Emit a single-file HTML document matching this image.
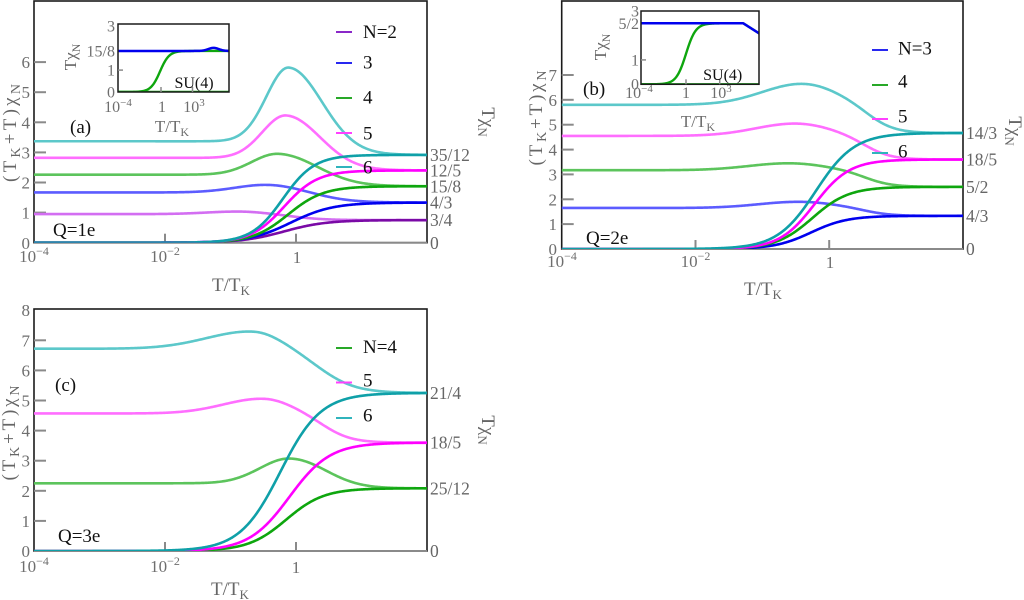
<!DOCTYPE html>
<html><head><meta charset="utf-8">
<style>
html,body{margin:0;padding:0;background:#fff;}
svg{display:block;font-family:"Liberation Serif","Times New Roman",serif;}
svg text, svg tspan{font-family:"Liberation Serif","Times New Roman",serif;}
.tk{font-size:17px;fill:#6e6e6e;font-family:"Liberation Serif",serif;}
.rl{font-size:17.5px;fill:#666;font-family:"Liberation Serif",serif;}
.lg{font-size:19px;fill:#111;font-family:"Liberation Serif",serif;}
.ttl{font-size:19px;fill:#666;font-family:"Liberation Serif",serif;}
.it{font-size:16px;fill:#6e6e6e;font-family:"Liberation Serif",serif;}
</style></head><body>
<svg id="s" width="1024" height="600" viewBox="0 0 1024 600" xmlns="http://www.w3.org/2000/svg" font-family="Liberation Serif, serif" style="font-family:'Liberation Serif',serif">
<defs>
<clipPath id="ca"><rect x="34" y="1" width="393" height="241.7"/></clipPath>
<clipPath id="cb"><rect x="561.7" y="1" width="401.3" height="248"/></clipPath>
<clipPath id="cc"><rect x="34" y="309" width="393" height="242"/></clipPath>
<clipPath id="cia"><rect x="118" y="24" width="111" height="68"/></clipPath>
<clipPath id="cib"><rect x="641" y="11" width="118" height="73.3"/></clipPath>
</defs>
<rect width="1024" height="600" fill="#fff"/>

<!-- ===== Panel A axes ===== -->
<rect x="34" y="1" width="393" height="241.7" fill="none" stroke="#1a1a1a" stroke-width="1.6"/>
<line x1="34" y1="242.7" x2="427" y2="242.7" stroke="#8a8a8a" stroke-width="2"/>
<g stroke="#8a8a8a" stroke-width="2">
<line x1="34" y1="212.6" x2="46" y2="212.6"/><line x1="34" y1="182.5" x2="46" y2="182.5"/>
<line x1="34" y1="152.4" x2="46" y2="152.4"/><line x1="34" y1="122.3" x2="46" y2="122.3"/>
<line x1="34" y1="92.2" x2="46" y2="92.2"/><line x1="34" y1="62.1" x2="46" y2="62.1"/>
<line x1="165" y1="242.7" x2="165" y2="233.7"/><line x1="296" y1="242.7" x2="296" y2="233.7"/>
<line x1="414" y1="154.9" x2="427" y2="154.9"/><line x1="414" y1="170.5" x2="427" y2="170.5"/>
<line x1="414" y1="186.3" x2="427" y2="186.3"/><line x1="414" y1="202.6" x2="427" y2="202.6"/>
<line x1="414" y1="220.1" x2="427" y2="220.1"/>
</g>

<!-- ===== Panel B axes ===== -->
<rect x="561.7" y="1" width="401.3" height="248" fill="none" stroke="#1a1a1a" stroke-width="1.6"/>
<line x1="561.7" y1="249" x2="963" y2="249" stroke="#8a8a8a" stroke-width="2"/>
<g stroke="#8a8a8a" stroke-width="2">
<line x1="561.7" y1="224.1" x2="573.7" y2="224.1"/><line x1="561.7" y1="199.3" x2="573.7" y2="199.3"/>
<line x1="561.7" y1="174.4" x2="573.7" y2="174.4"/><line x1="561.7" y1="149.6" x2="573.7" y2="149.6"/>
<line x1="561.7" y1="124.7" x2="573.7" y2="124.7"/><line x1="561.7" y1="99.8" x2="573.7" y2="99.8"/>
<line x1="561.7" y1="75" x2="573.7" y2="75"/>
<line x1="695.5" y1="249" x2="695.5" y2="240"/><line x1="829.2" y1="249" x2="829.2" y2="240"/>
<line x1="950" y1="133" x2="963" y2="133"/><line x1="950" y1="159.5" x2="963" y2="159.5"/>
<line x1="950" y1="186.9" x2="963" y2="186.9"/><line x1="950" y1="215.9" x2="963" y2="215.9"/>
</g>

<!-- ===== Panel C axes ===== -->
<rect x="34" y="309" width="393" height="242" fill="none" stroke="#1a1a1a" stroke-width="1.6"/>
<line x1="34" y1="551" x2="427" y2="551" stroke="#8a8a8a" stroke-width="2"/>
<g stroke="#8a8a8a" stroke-width="2">
<line x1="34" y1="520.9" x2="46" y2="520.9"/><line x1="34" y1="490.8" x2="46" y2="490.8"/>
<line x1="34" y1="460.7" x2="46" y2="460.7"/><line x1="34" y1="430.6" x2="46" y2="430.6"/>
<line x1="34" y1="400.5" x2="46" y2="400.5"/><line x1="34" y1="370.4" x2="46" y2="370.4"/>
<line x1="34" y1="340.3" x2="46" y2="340.3"/>
<line x1="165" y1="551" x2="165" y2="542"/><line x1="296" y1="551" x2="296" y2="542"/>
<line x1="414" y1="393" x2="427" y2="393"/><line x1="414" y1="442.6" x2="427" y2="442.6"/>
<line x1="414" y1="488.3" x2="427" y2="488.3"/>
</g>

<g id="ga" clip-path="url(#ca)"></g>
<g id="gb" clip-path="url(#cb)"></g>
<g id="gc" clip-path="url(#cc)"></g>

<!-- ===== Inset A ===== -->
<rect x="118" y="24" width="111" height="68" fill="#fff"/>
<g id="gia" clip-path="url(#cia)"></g>
<rect x="118" y="24" width="111" height="68" fill="none" stroke="#1a1a1a" stroke-width="1.5"/>
<g stroke="#8a8a8a" stroke-width="1.5">
<line x1="118" y1="70.1" x2="123" y2="70.1"/><line x1="161" y1="92" x2="161" y2="87"/><line x1="192.5" y1="92" x2="192.5" y2="87"/>
</g>
<g class="it" text-anchor="end">
<text x="115" y="31.5">3</text><text x="115" y="56.5">15/8</text><text x="115" y="75.5">1</text><text x="115" y="97.5">0</text>
</g>
<g class="it" text-anchor="middle">
<text x="118" y="112">10<tspan font-size="11" dy="-6">−4</tspan></text>
<text x="162" y="112">1</text>
<text x="194" y="112">10<tspan font-size="11" dy="-6">3</tspan></text>
<text x="172" y="132" font-size="17">T/T<tspan font-size="12" dy="4">K</tspan></text>
</g>
<text transform="translate(70,57) rotate(-90)" text-anchor="middle" y="6" font-size="17" fill="#666" font-family="Liberation Serif, serif">Tχ<tspan font-size="12" dy="4">N</tspan></text>
<text x="194" y="88" text-anchor="middle" font-size="16" fill="#111" font-family="Liberation Serif, serif">SU(4)</text>

<!-- ===== Inset B ===== -->
<rect x="641" y="11" width="118" height="73.3" fill="#fff"/>
<g id="gib" clip-path="url(#cib)"></g>
<rect x="641" y="11" width="118" height="73.3" fill="none" stroke="#1a1a1a" stroke-width="1.5"/>
<g stroke="#8a8a8a" stroke-width="1.5">
<line x1="641" y1="59.9" x2="646" y2="59.9"/><line x1="686" y1="84.3" x2="686" y2="79.3"/><line x1="719.7" y1="84.3" x2="719.7" y2="79.3"/>
</g>
<g class="it" text-anchor="end">
<text x="639" y="16.5">3</text><text x="639" y="29">5/2</text><text x="639" y="65.5">1</text><text x="639" y="89.5">0</text>
</g>
<g class="it" text-anchor="middle">
<text x="639" y="98">10<tspan font-size="11" dy="-6">−4</tspan></text>
<text x="686" y="98">1</text>
<text x="721" y="98">10<tspan font-size="11" dy="-6">3</tspan></text>
<text x="698" y="127" font-size="17">T/T<tspan font-size="12" dy="4">K</tspan></text>
</g>
<text transform="translate(600,47) rotate(-90)" text-anchor="middle" y="6" font-size="17" fill="#666" font-family="Liberation Serif, serif">Tχ<tspan font-size="12" dy="4">N</tspan></text>
<text x="722.7" y="80" text-anchor="middle" font-size="16" fill="#111" font-family="Liberation Serif, serif">SU(4)</text>

<!-- ===== Legends ===== -->
<g stroke-width="2">
<line x1="336" y1="32" x2="352" y2="32" stroke="#8a28c8"/>
<line x1="336" y1="63" x2="352" y2="63" stroke="#2828f0"/>
<line x1="336" y1="98" x2="352" y2="98" stroke="#28a828"/>
<line x1="336" y1="133" x2="352" y2="133" stroke="#ff40ff"/>
<line x1="336" y1="167" x2="352" y2="167" stroke="#30b4bc"/>
<line x1="872" y1="50" x2="888" y2="50" stroke="#2828f0"/>
<line x1="872" y1="85" x2="888" y2="85" stroke="#28a828"/>
<line x1="872" y1="119" x2="888" y2="119" stroke="#ff40ff"/>
<line x1="872" y1="153" x2="888" y2="153" stroke="#30b4bc"/>
<line x1="336" y1="348" x2="352" y2="348" stroke="#28a828"/>
<line x1="336" y1="382.5" x2="352" y2="382.5" stroke="#ff40ff"/>
<line x1="336" y1="418" x2="352" y2="418" stroke="#30b4bc"/>
</g>
<g class="lg">
<text x="363" y="38">N=2</text><text x="363" y="68.5">3</text><text x="363" y="103.5">4</text><text x="363" y="139.5">5</text><text x="363" y="173.5">6</text>
<text x="898" y="54.5">N=3</text><text x="898" y="87.5">4</text><text x="898" y="122.5">5</text><text x="898" y="157.5">6</text>
<text x="363" y="353">N=4</text><text x="363" y="386.5">5</text><text x="363" y="421.5">6</text>
</g>

<!-- panel tags -->
<g class="lg">
<text x="70" y="133">(a)</text><text x="53" y="236">Q=1e</text>
<text x="583" y="95">(b)</text><text x="586" y="244">Q=2e</text>
<text x="55" y="391">(c)</text><text x="58" y="542">Q=3e</text>
</g>

<!-- ===== tick labels A ===== -->
<g class="tk" text-anchor="end">
<text x="30" y="249">0</text><text x="30" y="218.6">1</text><text x="30" y="188.5">2</text><text x="30" y="158.4">3</text>
<text x="30" y="128.3">4</text><text x="30" y="98.2">5</text><text x="30" y="68.1">6</text>
</g>
<g class="tk" text-anchor="middle">
<text x="34" y="262">10<tspan font-size="12" dy="-7">−4</tspan></text>
<text x="165" y="262">10<tspan font-size="12" dy="-7">−2</tspan></text>
<text x="297" y="263">1</text>
</g>
<text class="ttl" x="231" y="291" text-anchor="middle">T/T<tspan font-size="13" dy="4">K</tspan></text>
<text class="ttl" transform="translate(10,133) rotate(-90)" text-anchor="middle" y="6" font-size="20" textLength="98" lengthAdjust="spacing">(T<tspan font-size="14" dy="4">K</tspan><tspan dy="-4">+T)χ</tspan><tspan font-size="14" dy="4">N</tspan></text>
<g class="rl">
<text x="430" y="161">35/12</text><text x="430" y="176.5">12/5</text><text x="430" y="192.3">15/8</text>
<text x="430" y="208.6">4/3</text><text x="430" y="226.1">3/4</text><text x="430" y="249">0</text>
</g>
<text class="ttl" transform="translate(488,122) rotate(90)" text-anchor="middle" y="6">Tχ<tspan font-size="13" dy="4">N</tspan></text>

<!-- ===== tick labels B ===== -->
<g class="tk" text-anchor="end">
<text x="557" y="255">0</text><text x="557" y="230.1">1</text><text x="557" y="205.3">2</text><text x="557" y="180.4">3</text>
<text x="557" y="155.6">4</text><text x="557" y="130.7">5</text><text x="557" y="105.8">6</text><text x="557" y="81">7</text>
</g>
<g class="tk" text-anchor="middle">
<text x="562" y="267">10<tspan font-size="12" dy="-7">−4</tspan></text>
<text x="695.5" y="267">10<tspan font-size="12" dy="-7">−2</tspan></text>
<text x="830" y="268">1</text>
</g>
<text class="ttl" x="763" y="295" text-anchor="middle">T/T<tspan font-size="13" dy="4">K</tspan></text>
<text class="ttl" transform="translate(536,118) rotate(-90)" text-anchor="middle" y="6" font-size="20" textLength="95" lengthAdjust="spacing">(T<tspan font-size="14" dy="4">K</tspan><tspan dy="-4">+T)χ</tspan><tspan font-size="14" dy="4">N</tspan></text>
<g class="rl">
<text x="966" y="139">14/3</text><text x="966" y="165.5">18/5</text><text x="966" y="192.9">5/2</text>
<text x="966" y="221.9">4/3</text><text x="966" y="255">0</text>
</g>
<text class="ttl" transform="translate(1015,131) rotate(90)" text-anchor="middle" y="6">Tχ<tspan font-size="13" dy="4">N</tspan></text>

<!-- ===== tick labels C ===== -->
<g class="tk" text-anchor="end">
<text x="30" y="557">0</text><text x="30" y="526.9">1</text><text x="30" y="496.8">2</text><text x="30" y="466.7">3</text>
<text x="30" y="436.6">4</text><text x="30" y="406.5">5</text><text x="30" y="376.4">6</text><text x="30" y="346.3">7</text><text x="30" y="316.2">8</text>
</g>
<g class="tk" text-anchor="middle">
<text x="34" y="572">10<tspan font-size="12" dy="-7">−4</tspan></text>
<text x="165" y="572">10<tspan font-size="12" dy="-7">−2</tspan></text>
<text x="296" y="573">1</text>
</g>
<text class="ttl" x="230" y="595" text-anchor="middle">T/T<tspan font-size="13" dy="4">K</tspan></text>
<text class="ttl" transform="translate(9,433) rotate(-90)" text-anchor="middle" y="6" font-size="20" textLength="95" lengthAdjust="spacing">(T<tspan font-size="14" dy="4">K</tspan><tspan dy="-4">+T)χ</tspan><tspan font-size="14" dy="4">N</tspan></text>
<g class="rl">
<text x="430" y="399">21/4</text><text x="430" y="448.6">18/5</text><text x="430" y="494.3">25/12</text><text x="430" y="557">0</text>
</g>
<text class="ttl" transform="translate(488,430) rotate(90)" text-anchor="middle" y="6">Tχ<tspan font-size="13" dy="4">N</tspan></text>
</svg>

<script>
(function(){
var NS='http://www.w3.org/2000/svg';
function Lg(z){return 1/(1+Math.exp(-z));}
function thin(B,E,xc,wb,xp,H,sl,sr){return function(x){var d=x-xp,s=d<0?sl:sr;return B+(E-B)*Lg((x-xc)/wb)+H*Math.exp(-d*d/(2*s*s));};}
function thick(A,p,t0){return function(x){return A/(1+Math.pow(10,-p*(x-t0)));};}
function add(id,f,P,x1,x2,col,w){
  var d='',n=400;
  for(var i=0;i<=n;i++){var x=x1+(x2-x1)*i/n;var px=P.L+(x-P.x0)*P.dec,py=P.B-f(x)*P.u;d+=(i?'L':'M')+px.toFixed(2)+','+py.toFixed(2);}
  var e=document.createElementNS(NS,'path');
  e.setAttribute('d',d);e.setAttribute('fill','none');e.setAttribute('stroke',col);
  e.setAttribute('stroke-width',w);e.setAttribute('stroke-linejoin','round');
  document.getElementById(id).appendChild(e);
}
var PA={L:34,x0:-4,dec:65.5,B:242.7,u:30.1},
    PB={L:561.7,x0:-4,dec:66.88,B:249,u:24.86},
    PC={L:34,x0:-4,dec:65.5,B:551,u:30.1},
    IA={L:118,x0:-4,dec:10.5,B:92,u:21.9},
    IB={L:641,x0:-4,dec:11.25,B:84.3,u:24.4};
var tp='#d36ef2',tb='#5c5cff',tg='#5cc45c',tm='#ff6eff',tt='#5cc8ca';
var kp='#7a0aa6',kb='#0000ee',kg='#0ea60e',km='#ff00ff',kt='#0fa0a8';
var W=2.6;
add('ga',thin(0.95,0.75,0.0,0.25,-0.85,0.09,0.5,0.4),PA,-4,2.1,tp,W);
add('ga',thin(1.67,1.3333,0.4,0.3,-0.42,0.27,0.5,0.5),PA,-4,2.1,tb,W);
add('ga',thin(2.26,1.875,0.5,0.3,-0.27,0.72,0.4,0.55),PA,-4,2.1,tg,W);
add('ga',thin(2.82,2.4,0.5,0.3,-0.15,1.45,0.36,0.5),PA,-4,2.1,tm,W);
add('ga',thin(3.37,2.9167,0.5,0.3,-0.11,2.5,0.34,0.5),PA,-4,2.1,tt,W);
add('ga',thick(0.75,1.35,-0.18),PA,-4,2.1,kp,W);
add('ga',thick(1.3333,1.35,-0.08),PA,-4,2.1,kb,W);
add('ga',thick(1.875,1.6,-0.12),PA,-4,2.1,kg,W);
add('ga',thick(2.4,1.7,-0.18),PA,-4,2.1,km,W);
add('ga',thick(2.9167,1.8,-0.2),PA,-4,2.1,kt,W);
add('gb',thin(1.65,1.3333,0.55,0.2,-0.45,0.25,0.6,0.55),PB,-4,2.1,tb,W);
add('gb',thin(3.17,2.5,0.55,0.2,-0.6,0.28,0.6,0.55),PB,-4,2.1,tg,W);
add('gb',thin(4.55,3.6,0.55,0.2,-0.5,0.5,0.6,0.55),PB,-4,2.1,tm,W);
add('gb',thin(5.8,4.6667,0.6,0.2,-0.4,0.85,0.6,0.55),PB,-4,2.1,tt,W);
add('gb',thick(1.3333,1.6,-0.27),PB,-4,2.1,kb,W);
add('gb',thick(2.5,1.6,-0.25),PB,-4,2.1,kg,W);
add('gb',thick(3.6,1.65,-0.22),PB,-4,2.1,km,W);
add('gb',thick(4.6667,1.5,-0.2),PB,-4,2.1,kt,W);
add('gc',thin(2.25,2.0833,0.5,0.2,-0.1,0.83,0.45,0.55),PC,-4,2.1,tg,W);
add('gc',thin(4.57,3.6,0.45,0.22,-0.5,0.5,0.6,0.45),PC,-4,2.1,tm,W);
add('gc',thin(6.72,5.25,0.4,0.28,-0.65,0.6,0.7,0.45),PC,-4,2.1,tt,W);
add('gc',thick(2.0833,1.5,-0.15),PC,-4,2.1,kg,W);
add('gc',thick(3.6,1.4,-0.1),PC,-4,2.1,km,W);
add('gc',thick(5.25,1.4,-0.24),PC,-4,2.1,kt,W);
// Inset A
var blueA=function(x){var d=x-5.1;return 1.875+0.14*Math.exp(-d*d/(2*0.25));};
var grA=thick(1.875,1,0);
add('gia',function(x){return 0;},IA,-4,7,kg,2.4);
add('gia',function(x){return Math.min(grA(x),1.875);},IA,-4,7,kg,2.4);
add('gia',blueA,IA,-4,7,kb,2.5);
// Inset B
var blueB=function(x){return x<5.09?2.5:2.5-(x-5.09)*(0.41/1.4);};
var grB=thick(2.5,1,0);
add('gib',function(x){return 0;},IB,-4,7,kg,2.4);
add('gib',function(x){return Math.min(grB(x),blueB(x));},IB,-4,7,kg,2.4);
add('gib',blueB,IB,-4,7,kb,2.5);
})();
</script>
</body></html>
